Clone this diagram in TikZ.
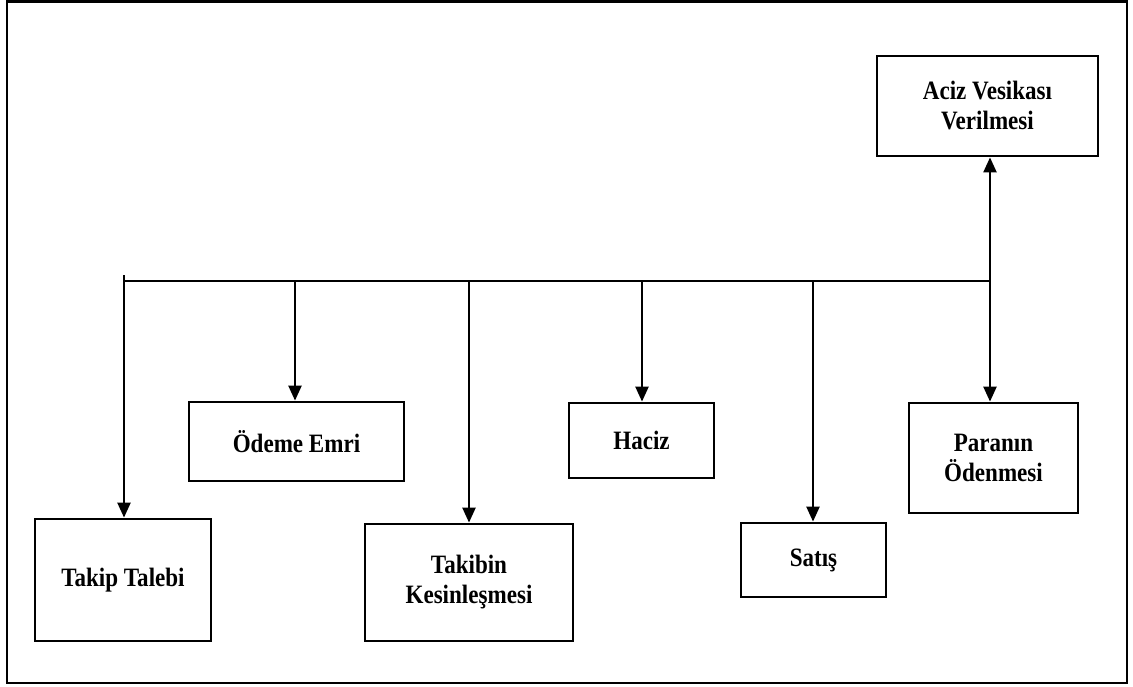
\documentclass[tikz,border=0pt]{standalone}
\usepackage{fontspec}
\setmainfont{Liberation Serif}
\newfontfamily\boxfont[FakeStretch=0.87]{Liberation Serif}
\usetikzlibrary{arrows.meta}
\tikzset{
  box/.style={draw, line width=2.8pt, align=center, inner sep=0pt,
    font=\boxfont\bfseries\fontsize{26.5}{30}\selectfont},
  arr/.style={line width=2.3pt, -{Triangle[width=13pt,length=15pt]}},
  dbl/.style={line width=2.3pt, {Triangle[width=13pt,length=15pt]}-{Triangle[width=13pt,length=15pt]}},
  bus/.style={line width=2.3pt}
}
\begin{document}
\begin{tikzpicture}[x=1pt,y=-1pt]
\useasboundingbox (0,0) rectangle (1133,686);
\draw[line width=2.8pt] (7,1.5) rectangle (1127,683);
\node[box, minimum width=221pt, minimum height=100pt] (aciz) at (987.5,106) {Aciz Vesikası\\Verilmesi};
\node[box, minimum width=176pt, minimum height=122pt] (takip) at (123,580) {Takip Talebi};
\node[box, minimum width=215pt, minimum height=79pt] (odeme) at (296.5,441.5) {Ödeme Emri};
\node[box, minimum width=208pt, minimum height=117pt] (takibin) at (469,582.5) {Takibin\\Kesinleşmesi};
\node[box, minimum width=145pt, minimum height=75pt] (haciz) at (641.5,440.5) {Haciz};
\node[box, minimum width=145pt, minimum height=74pt] (satis) at (813.5,560) {Satış};
\node[box, minimum width=169pt, minimum height=110pt] (paranin) at (993.5,458) {Paranın\\Ödenmesi};
\coordinate (busL) at (124,281);
\coordinate (busR) at (990,281);
\coordinate (tick) at (124,275);
\draw[bus] (busL) -- (busR);
\draw[arr] (tick) -- (takip.north -| tick);
\coordinate (b1) at (295,281);
\coordinate (b2) at (469,281);
\coordinate (b3) at (642,281);
\coordinate (b4) at (813,281);
\draw[arr] (b1) -- (b1 |- odeme.north);
\draw[arr] (b2) -- (b2 |- takibin.north);
\draw[arr] (b3) -- (b3 |- haciz.north);
\draw[arr] (b4) -- (b4 |- satis.north);
\draw[dbl] (busR |- aciz.south) -- (busR |- paranin.north);
\end{tikzpicture}
\end{document}
